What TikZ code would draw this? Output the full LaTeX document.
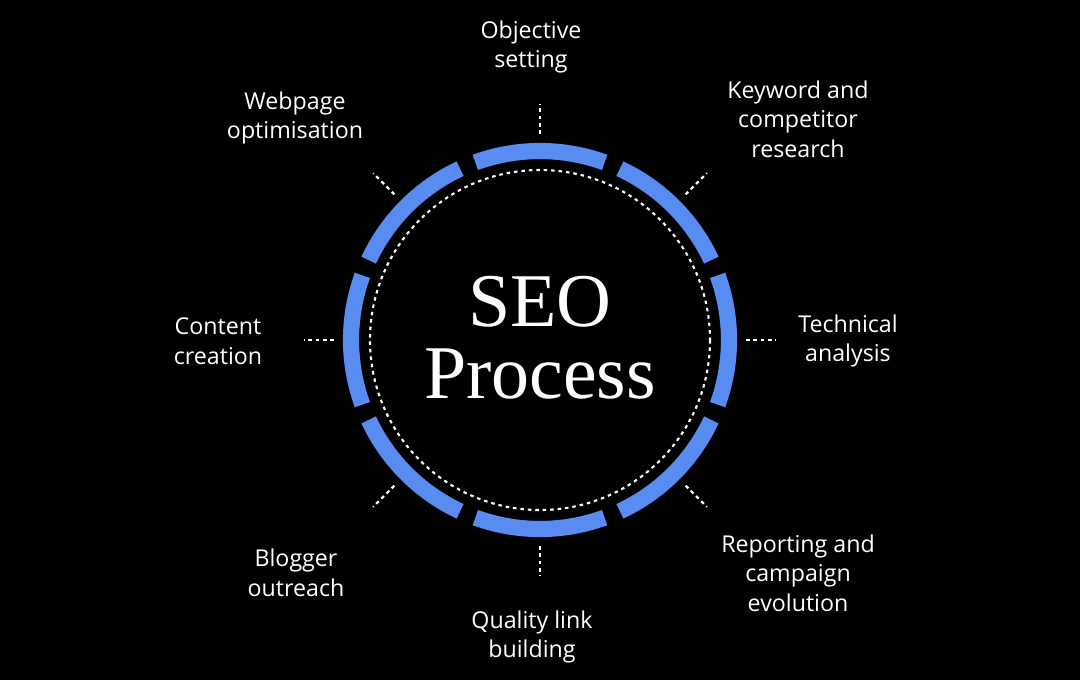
\documentclass[tikz,border=0pt]{standalone}
\usepackage{fontspec}
\setmainfont{Liberation Serif}
\newfontfamily\labelfont{Open Sans}
\usetikzlibrary{positioning, calc}
\definecolor{ringblue}{RGB}{88,140,240}
\tikzset{
  steplabel/.style={text=white, font=\labelfont\fontsize{16.5}{21}\selectfont, align=center},
  tick/.style={white, line width=1.6pt, dash pattern=on 2.6pt off 2.6pt},
}
\begin{document}
\begin{tikzpicture}[x=0.025cm, y=-0.025cm]

	\fill [black] (0,0) rectangle (1080,680);
	\coordinate (c) at (540,340);

	% ring segments
	\foreach \a in {0,45,...,315}
		\draw [ringblue, line width=11.5pt] ($(c)+(\a-20:189)$) arc [start angle=\a-20, end angle=\a+20, radius=189];
	\draw [white, line width=1.5pt, dash pattern=on 2.5pt off 2.8pt] (c) circle [radius=170];

	% ticks
	\foreach \a in {0,45,...,315} {
		\coordinate (t\a a) at ($(c)+(\a:206)$);
		\coordinate (t\a b) at ($(c)+(\a:236)$);
		\draw [tick] (t\a a) -- (t\a b);
	}

	\node [text=white, font=\fontsize{54}{51}\selectfont, align=center] (title) at (540,338) {SEO\\Process};

	\node [steplabel] (objective) at (531,47) {Objective\\setting};
	\node [steplabel] (keyword) at (798,119) {Keyword and\\competitor\\research};
	\node [steplabel] (technical) at (848,341) {Technical\\analysis};
	\node [steplabel] (reporting) at (798,573) {Reporting and\\campaign\\evolution};
	\node [steplabel] (quality) at (532,637) {Quality link\\building};
	\node [steplabel] (blogger) at (296,573) {Blogger\\outreach};
	\node [steplabel] (content) at (218,341) {Content\\creation};
	\node [steplabel] (webpage) at (295,118) {Webpage\\optimisation};

\end{tikzpicture}
\end{document}
